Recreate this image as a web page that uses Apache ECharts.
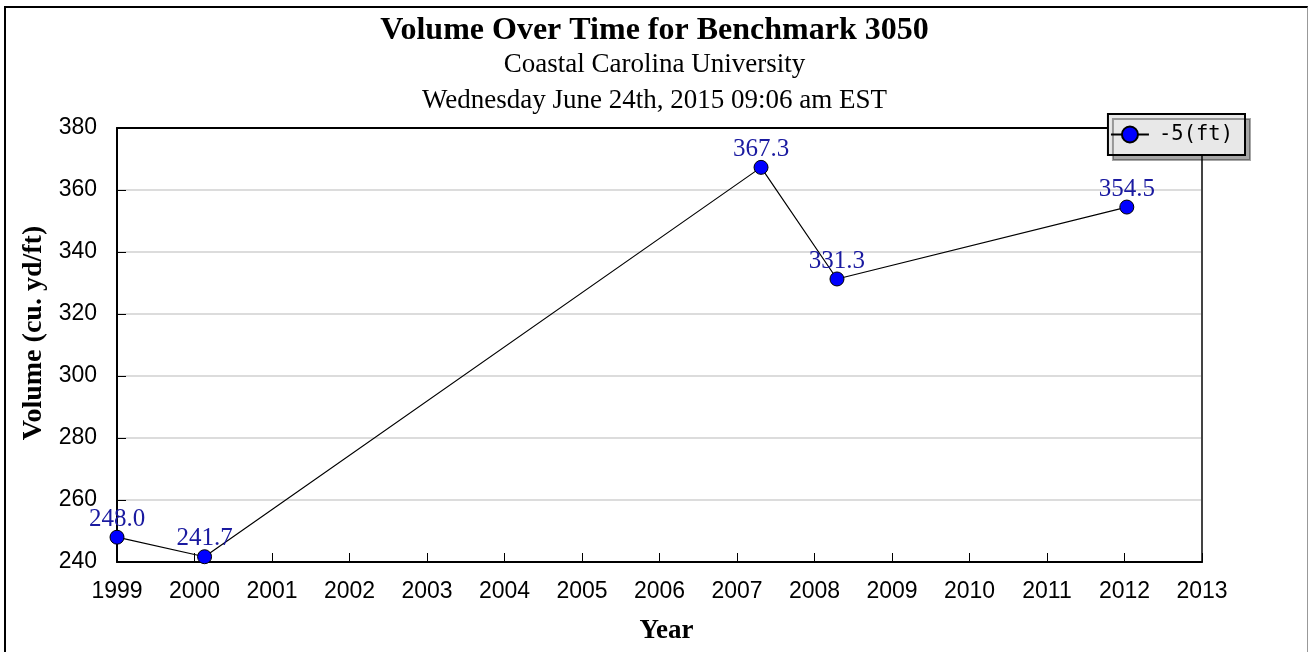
<!DOCTYPE html>
<html>
<head>
<meta charset="utf-8">
<script src="https://cdn.jsdelivr.net/npm/echarts@6/dist/echarts.min.js"></script>
<style>
	html, body { margin: 0; padding: 0; background: #fff; }
	#chart { width: 1309px; height: 652px; }
	.frame {
		position: absolute;
		left: 4px;
		top: 6px;
		width: 1301px;
		height: 660px;
		border-left: 2px solid #000;
		border-top: 2px solid #000;
		border-right: 1px solid #999;
		pointer-events: none;
	}
</style>
</head>
<body>
<div id="chart"></div>
<div class="frame"></div>
<script>
// survey years (fractional) and volume values
const years = [1999.0, 2000.13, 2007.31, 2008.29, 2012.03]
const volumes = [248.0, 241.7, 367.3, 331.3, 354.5]
const seriesName = "-5(ft)"

const chart = echarts.init(document.getElementById("chart"))
const serif = "Liberation Serif"
const sans = "Liberation Sans"

let option = {
	backgroundColor: "#fff",
	animation: false,
	title: [
		{
			text: "Volume Over Time for Benchmark 3050",
			left: "center",
			top: 10,
			textStyle: { fontFamily: serif, fontSize: 32, fontWeight: "bold", color: "#000" }
		},
		{
			text: "Coastal Carolina University",
			left: "center",
			top: 46,
			textStyle: { fontFamily: serif, fontSize: 27, fontWeight: "normal", color: "#000" }
		},
		{
			text: "Wednesday June 24th, 2015 09:06 am EST",
			left: "center",
			top: 82,
			textStyle: { fontFamily: serif, fontSize: 27, fontWeight: "normal", color: "#000" }
		}
	],
	legend: {
		right: 64,
		top: 114,
		backgroundColor: "#e8e8e8",
		borderColor: "#000",
		borderWidth: 2,
		borderRadius: 0,
		shadowColor: "rgba(0,0,0,0.35)",
		shadowOffsetX: 5,
		shadowOffsetY: 5,
		padding: [10, 12, 10, 2],
		itemWidth: 38,
		itemHeight: 20,
		itemGap: 0,
		textStyle: { fontFamily: "DejaVu Sans Mono", fontSize: 20.5, color: "#000", padding: [0, 0, 0, 5] },
		data: [seriesName]
	},
	grid: {
		left: 117,
		right: 107,
		top: 128,
		bottom: 90
	},
	xAxis: [
		{
			type: "value",
			name: "Year",
			nameLocation: "middle",
			nameGap: 56,
			nameTextStyle: { fontFamily: serif, fontSize: 27, fontWeight: "bold", color: "#000", padding: [0, 0, 0, 14] },
			min: 1999,
			max: 2013,
			interval: 1,
			axisLine: { show: true, lineStyle: { color: "#000", width: 2 } },
			axisTick: { show: true, inside: true, length: 9, lineStyle: { color: "#000" } },
			axisLabel: { fontFamily: sans, fontSize: 23, color: "#000", margin: 18, formatter: (v) => String(v) },
			splitLine: { show: false }
		},
		{
			type: "value",
			position: "top",
			min: 1999,
			max: 2013,
			axisLine: { show: true, lineStyle: { color: "#000", width: 2 } },
			axisTick: { show: false },
			axisLabel: { show: false },
			splitLine: { show: false }
		}
	],
	yAxis: [
		{
			type: "value",
			name: "Volume (cu. yd/ft)",
			nameLocation: "middle",
			nameGap: 69,
			nameTextStyle: { fontFamily: serif, fontSize: 28, fontWeight: "bold", color: "#000", padding: [0, 0, 0, 24] },
			min: 240,
			max: 380,
			interval: 20,
			axisLine: { show: true, lineStyle: { color: "#000", width: 2 } },
			axisTick: { show: true, inside: true, length: 9, lineStyle: { color: "#000" } },
			axisLabel: { fontFamily: sans, fontSize: 23, color: "#000", margin: 20 },
			splitLine: { show: true, lineStyle: { color: "#dcdcdc", width: 2 } }
		},
		{
			type: "value",
			position: "right",
			min: 240,
			max: 380,
			axisLine: { show: true, lineStyle: { color: "#444", width: 2 } },
			axisTick: { show: false },
			axisLabel: { show: false },
			splitLine: { show: false }
		}
	],
	series: [
		{
			name: seriesName,
			type: "line",
			data: years.map((y, i) => [y, volumes[i]]),
			symbol: "circle",
			symbolSize: 14,
			itemStyle: { color: "#0000ff", borderColor: "#000", borderWidth: 1 },
			lineStyle: { color: "#000", width: 1.2 },
			label: {
				show: true,
				position: "top",
				distance: -2,
				fontFamily: serif,
				fontSize: 25,
				color: "#1a1aa0",
				formatter: (p) => p.value[1].toFixed(1)
			},
			z: 3
		}
	]
}
chart.setOption(option)
</script>
</body>
</html>
